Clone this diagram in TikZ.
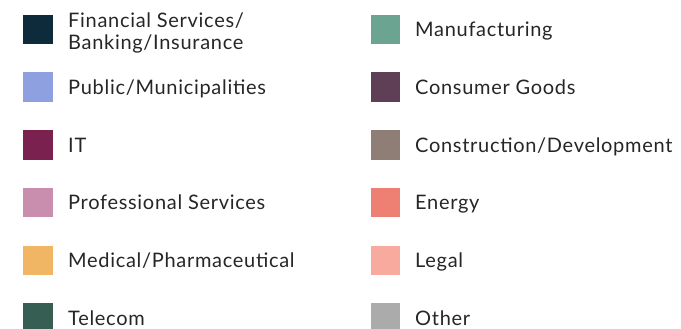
\documentclass[tikz,border=0pt]{standalone}
\usepackage{fontspec}
\setmainfont[LetterSpace=3.5]{Lato}
% swatch colours
\definecolor{cFin}{HTML}{0E2B3C}
\definecolor{cPub}{HTML}{8EA0E0}
\definecolor{cIT}{HTML}{7B2150}
\definecolor{cProf}{HTML}{C98DAE}
\definecolor{cMed}{HTML}{F0B664}
\definecolor{cTel}{HTML}{365E52}
\definecolor{cManu}{HTML}{6BA591}
\definecolor{cCons}{HTML}{5E3F55}
\definecolor{cConstr}{HTML}{8E7E76}
\definecolor{cEnergy}{HTML}{EE7F73}
\definecolor{cLegal}{HTML}{F9AA9F}
\definecolor{cOther}{HTML}{ABABAB}
\definecolor{inkgray}{HTML}{262626}
\begin{document}
\begin{tikzpicture}[x=1pt,y=1pt,
  swatch/.style={minimum size=29.5pt, inner sep=0pt, outer sep=0pt, fill=#1},
  textbase/.style={inner sep=0pt, text=inkgray, font=\fontsize{20}{21.7}\selectfont},
  itemtext/.style={textbase, anchor=west, text height=14.3pt, text depth=0pt}]
\useasboundingbox (0,0) rectangle (681,329);

% left column
\node[swatch=cFin]  (sFin)  at (38,299.5) {};
\node[swatch=cPub]  (sPub)  at (38,241.8) {};
\node[swatch=cIT]   (sIT)   at (38,184.1) {};
\node[swatch=cProf] (sProf) at (38,126.4) {};
\node[swatch=cMed]  (sMed)  at (38,68.7) {};
\node[swatch=cTel]  (sTel)  at (38,11.0) {};

\node[textbase, anchor=north west, align=left] (tFin) at (68,316.3) {Financial Services/\\Banking/Insurance};
\node[itemtext] (tPub)  at (68,241.8) {Public/Municipalities};
\node[itemtext] (tIT)   at (68,184.1) {IT};
\node[itemtext] (tProf) at (68,126.4) {Professional Services};
\node[itemtext] (tMed)  at (68,68.7) {Medical/Pharmaceutical};
\node[itemtext] (tTel)  at (68,11.0) {Telecom};

% right column
\node[swatch=cManu]   (sManu)   at (385.7,299.5) {};
\node[swatch=cCons]   (sCons)   at (385.7,241.8) {};
\node[swatch=cConstr] (sConstr) at (385.7,184.1) {};
\node[swatch=cEnergy] (sEnergy) at (385.7,126.4) {};
\node[swatch=cLegal]  (sLegal)  at (385.7,68.7) {};
\node[swatch=cOther]  (sOther)  at (385.7,11.0) {};

\node[itemtext] (tManu)   at (415,299.5) {Manufacturing};
\node[itemtext] (tCons)   at (415,241.8) {Consumer Goods};
\node[itemtext] (tConstr) at (415,184.1) {Construction/Development};
\node[itemtext] (tEnergy) at (415,126.4) {Energy};
\node[itemtext] (tLegal)  at (415,68.7) {Legal};
\node[itemtext] (tOther)  at (415,11.0) {Other};
\end{tikzpicture}
\end{document}
